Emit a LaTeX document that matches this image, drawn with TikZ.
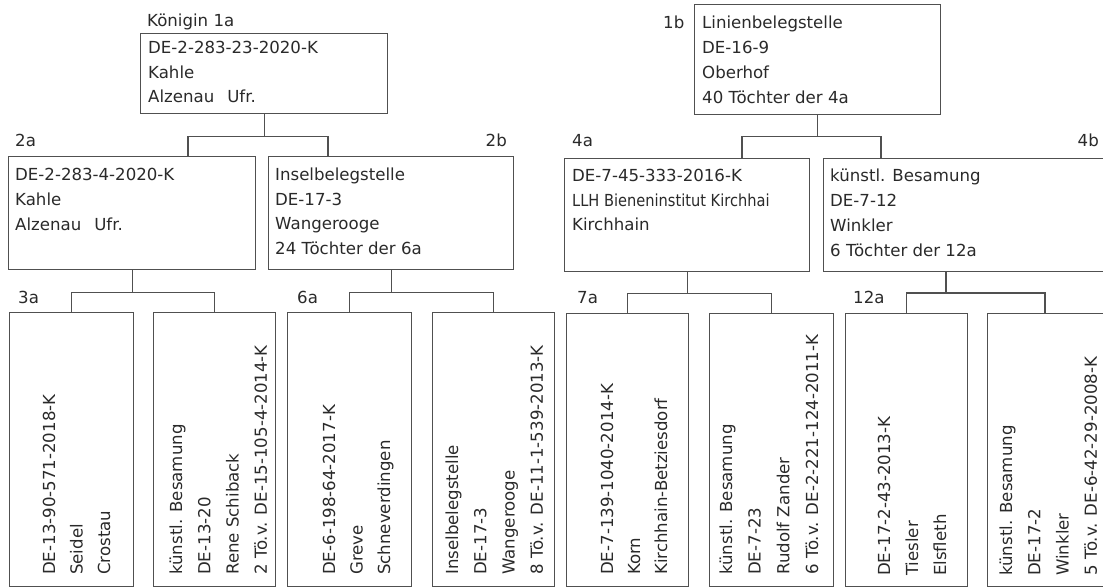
\documentclass[tikz,border=0pt]{standalone}
\usepackage{fontspec}
\setmainfont{DejaVu Sans}
\definecolor{ln}{HTML}{505050}
\definecolor{tx}{HTML}{2A2A2A}
\newcommand\txtlines[5]{%
  \foreach \s [count=\i from 0] in {#5} {\node[txt, anchor=base west] (#1-\i) at (#2,{#3+\i*#4}) {\s};}}
\newcommand\rotlines[5]{%
  \foreach \s [count=\i from 0] in {#5} {\node[txt, rotate=90, anchor=base west] (#1-\i) at ({#2+\i*#4},#3) {\s};}}
\begin{document}
\begin{tikzpicture}[x=1pt,y=-1pt,
  box/.style={draw=ln, line width=1.4pt, inner sep=0pt, anchor=north west},
  txt/.style={inner sep=0pt, text=tx, font=\fontsize{16.6}{19}\selectfont},
  conn/.style={draw=ln, line width=1.4pt}]
\useasboundingbox (0,0) rectangle (1103,588);
\clip (0,0) rectangle (1103,588);
\fill[white] (0,0) rectangle (1103,588);

% boxes
\node[box, minimum width=247, minimum height=80]  (n1a) at (140,33) {};
\node[box, minimum width=246, minimum height=110] (n1b) at (694,4) {};
\node[box, minimum width=247, minimum height=113] (n2a) at (8,156) {};
\node[box, minimum width=245, minimum height=113] (n2b) at (268,156) {};
\node[box, minimum width=245, minimum height=113] (n4a) at (564,158) {};
\node[box, minimum width=300, minimum height=113] (n4b) at (823,158) {};
\node[box, minimum width=124, minimum height=274] (n3aL) at (9,312) {};
\node[box, minimum width=122, minimum height=274] (n3aR) at (153,312) {};
\node[box, minimum width=124, minimum height=274] (n6aL) at (287,312) {};
\node[box, minimum width=122, minimum height=274] (n6aR) at (432,312) {};
\node[box, minimum width=122, minimum height=273] (n7aL) at (566,313) {};
\node[box, minimum width=124, minimum height=273] (n7aR) at (709,313) {};
\node[box, minimum width=122, minimum height=273] (n12aL) at (845,313) {};
\node[box, minimum width=130, minimum height=273] (n12aR) at (987,313) {};

% connector end points
\coordinate (c2a) at (188,156);
\coordinate (c2b) at (328,156);
\coordinate (c4a) at (742,158);
\coordinate (c4b) at (881,158);
\coordinate (o4b) at (946,271);
\coordinate (c12R) at (1045,313);

% connectors
\draw[conn] (n1a.south) -- ++(0,22) coordinate (j1);
\draw[conn] (c2a) |- (j1) -| (c2b);
\draw[conn] (n1b.south) -- ++(0,21) coordinate (j2);
\draw[conn] (c4a) |- (j2) -| (c4b);
\draw[conn] (n2a.south) -- ++(0,22) coordinate (j3);
\draw[conn] (n3aL.north) |- (j3) -| (n3aR.north);
\draw[conn] (n2b.south) -- ++(0,22) coordinate (j4);
\draw[conn] (n6aL.north) |- (j4) -| (n6aR.north);
\draw[conn] (n4a.south) -- ++(0,21) coordinate (j5);
\draw[conn] (n7aL.north) |- (j5) -| (n7aR.north);
\draw[conn] (o4b) -- ++(0,22) coordinate (j6);
\draw[conn] (n12aL.north) |- (j6) -| (c12R);

% labels
\node[txt, anchor=base west] (l1a) at (147,27) {Königin 1a};
\node[txt, anchor=base west] (l1b) at (663,29) {1b};
\node[txt, anchor=base west] (l2a) at (15,147) {2a};
\node[txt, anchor=base east] (l2b) at (507,147) {2b};
\node[txt, anchor=base west] (l4a) at (572,147) {4a};
\node[txt, anchor=base east] (l4b) at (1099,147) {4b};
\node[txt, anchor=base west] (l3a) at (18,303) {3a};
\node[txt, anchor=base west] (l6a) at (297,303) {6a};
\node[txt, anchor=base west] (l7a) at (577,303) {7a};
\node[txt, anchor=base west] (l12a) at (853,303) {12a};

% horizontal texts
\txtlines{t1a}{148}{54}{24.5}{DE-2-283-23-2020-K, Kahle, Alzenau\hspace{13pt}Ufr.}
\txtlines{t1b}{702}{29}{24.7}{Linienbelegstelle, DE-16-9, Oberhof, 40 Töchter der 4a}
\txtlines{t2a}{15}{181}{24.5}{DE-2-283-4-2020-K, Kahle, Alzenau\hspace{13pt}Ufr.}
\txtlines{t2b}{275}{181}{24.4}{Inselbelegstelle, DE-17-3, Wangerooge, 24 Töchter der 6a}
\txtlines{t4a}{572}{182}{24.2}{DE-7-45-333-2016-K, \scalebox{0.88}[1]{LLH Bieneninstitut Kirchhai}, Kirchhain}
\txtlines{t4b}{830}{182}{24.7}{künstl. Besamung, DE-7-12, Winkler, 6 Töchter der 12a}

% rotated texts
\rotlines{t3aL}{55}{575}{27.5}{DE-13-90-571-2018-K, Seidel, Crostau}
\rotlines{t3aR}{182}{575}{28.3}{künstl. Besamung, DE-13-20, Rene Schiback, 2 Tö.v. DE-15-105-4-2014-K}
\rotlines{t6aL}{335}{575}{27.5}{DE-6-198-64-2017-K, Greve, Schneverdingen}
\rotlines{t6aR}{458}{575}{28.3}{Inselbelegstelle, DE-17-3, Wangerooge, 8 Tö.v. DE-11-1-539-2013-K}
\rotlines{t7aL}{613}{575}{27}{DE-7-139-1040-2014-K, Korn, Kirchhain-Betziesdorf}
\rotlines{t7aR}{732}{575}{28.7}{künstl. Besamung, DE-7-23, Rudolf Zander, 6 Tö.v. DE-2-221-124-2011-K}
\rotlines{t12aL}{890}{576}{28}{DE-17-2-43-2013-K, Tiesler, Elsfleth}
\rotlines{t12aR}{1012}{576}{28.3}{künstl. Besamung, DE-17-2, Winkler, 5 Tö.v. DE-6-42-29-2008-K}
\end{tikzpicture}
\end{document}
